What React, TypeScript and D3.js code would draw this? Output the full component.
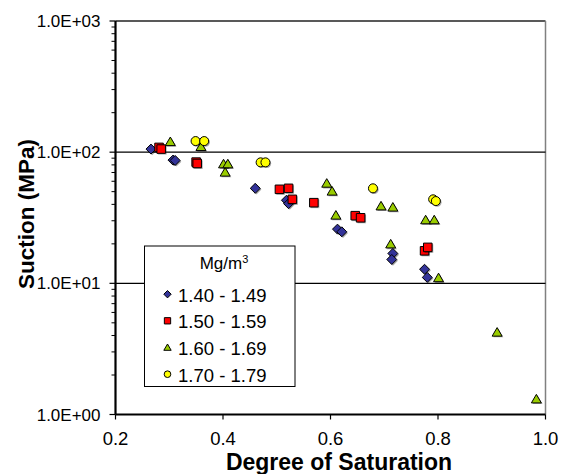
import React from "react";
import * as d3 from "d3";

// Degree of saturation vs. suction, grouped by dry density (Mg/m³)
const seriesNames = ["1.40 - 1.49", "1.50 - 1.59", "1.60 - 1.69", "1.70 - 1.79"];

const sat140 = [0.266, 0.307, 0.311, 0.46, 0.518, 0.522, 0.613, 0.621, 0.716, 0.714, 0.775, 0.78];
const suc140 = [105.6, 87, 86.5, 53.0, 43, 40.5, 25.9, 24.7, 16.9, 15.2, 12.8, 11.1];

const sat150 = [0.281, 0.285, 0.35, 0.352, 0.505, 0.522, 0.529, 0.569, 0.646, 0.656, 0.775, 0.781];
const suc150 = [108.7, 105.6, 84, 82, 52.1, 53.0, 43.7, 41.2, 32.8, 31.6, 17.7, 18.8];

const sat160 = [0.302, 0.359, 0.401, 0.409, 0.404, 0.593, 0.603, 0.61, 0.694, 0.716, 0.712, 0.777, 0.793, 0.801, 0.91, 0.983];
const suc160 = [120, 110, 81.2, 81.2, 70.2, 57.8, 50.3, 33.0, 38.8, 38.0, 19.9, 30.4, 30.4, 11.0, 4.23, 1.31];

const sat170 = [0.349, 0.365, 0.47, 0.479, 0.679, 0.791, 0.796];
const suc170 = [121.5, 121.5, 83.6, 83.6, 53.0, 43.7, 42.4];

const xTicks = [0.2, 0.4, 0.6, 0.8, 1.0];
const xTickLabels = ["0.2", "0.4", "0.6", "0.8", "1.0"];
const yTicks = [1, 10, 100, 1000];
const yTickLabels = ["1.0E+00", "1.0E+01", "1.0E+02", "1.0E+03"];
const gridValues = [10, 100];

const W = 563;
const H = 474;
const left = 115.5;
const right = 545.5;
const top = 21;
const bottom = 414.5;

const FONT = "Liberation Sans, Arial, sans-serif";

type Shape = "diamond" | "square" | "triangle" | "circle";

function markerPath(shape: Shape, cx: number, cy: number, s: number): string {
  const h = s / 2;
  switch (shape) {
    case "diamond":
      return `M${cx},${cy - h * 1.05}L${cx + h * 1.05},${cy}L${cx},${cy + h * 1.05}L${cx - h * 1.05},${cy}Z`;
    case "square":
      return `M${cx - h * 0.9},${cy - h * 0.9}h${s * 0.9}v${s * 0.9}h${-s * 0.9}Z`;
    case "triangle":
      return `M${cx},${cy - h}L${cx + h * 1.05},${cy + h * 0.8}L${cx - h * 1.05},${cy + h * 0.8}Z`;
    default: {
      const r = h * 0.95;
      return `M${cx - r},${cy}a${r},${r} 0 1,0 ${2 * r},0a${r},${r} 0 1,0 ${-2 * r},0Z`;
    }
  }
}

const seriesStyle: { shape: Shape; fill: string }[] = [
  { shape: "diamond", fill: "#333399" },
  { shape: "square", fill: "#FF0000" },
  { shape: "triangle", fill: "#99CC00" },
  { shape: "circle", fill: "#FFFF00" },
];

export default function App() {
  const x = d3.scaleLinear().domain([0.2, 1.0]).range([left, right]);
  const y = d3.scaleLog().domain([1, 1000]).range([bottom, top]);

  const series = [
    d3.zip(sat140, suc140),
    d3.zip(sat150, suc150),
    d3.zip(sat160, suc160),
    d3.zip(sat170, suc170),
  ];

  const minor: number[] = [];
  for (let d = 1; d < 1000; d *= 10) {
    for (let k = 2; k <= 9; k++) minor.push(d * k);
  }

  const legX = 144.5;
  const legY = 246;
  const legW = 150.5;
  const legH = 140.5;
  const rowBase = [301.7, 328.3, 355, 381.7];

  return (
    <svg width={W} height={H} style={{ position: "absolute", left: 0, top: 0, background: "#fff" }}>
      <rect x={0} y={0} width={W} height={H} fill="#fff" />
      {/* plot frame */}
      <line x1={left} x2={right} y1={top} y2={top} stroke="#222" strokeWidth={1.5} />
      <line x1={right} x2={right} y1={top} y2={bottom} stroke="#808080" strokeWidth={1.5} />
      {gridValues.map((v) => (
        <line key={v} x1={left} x2={right} y1={y(v)} y2={y(v)} stroke="#000" strokeWidth={1.2} />
      ))}

      {/* markers */}
      {series.map((pts, i) =>
        pts.map(([sx, sy], j) => {
          const p = markerPath(seriesStyle[i].shape, x(sx), y(sy), 9.5);
          return (
            <g key={`${i}-${j}`}>
              <path d={p} transform="translate(1.2,1.2)" fill="#000" opacity={0.35} />
              <path d={p} fill={seriesStyle[i].fill} stroke="#000" strokeWidth={1} />
            </g>
          );
        })
      )}

      {/* axes */}
      <line x1={left} x2={left} y1={top} y2={bottom} stroke="#000" strokeWidth={2.2} />
      <line x1={left} x2={right} y1={bottom} y2={bottom} stroke="#000" strokeWidth={2.2} />
      {minor.map((v) => (
        <line key={v} x1={left - 4} x2={left} y1={y(v)} y2={y(v)} stroke="#000" strokeWidth={1} />
      ))}
      {yTicks.map((v, i) => (
        <g key={v}>
          <line x1={left - 6} x2={left} y1={y(v)} y2={y(v)} stroke="#000" strokeWidth={1.2} />
          <text
            x={left - 15}
            y={y(v)}
            dy="0.36em"
            textAnchor="end"
            fontFamily={FONT}
            fontSize={17}
            fill="#000"
          >
            {yTickLabels[i]}
          </text>
        </g>
      ))}
      {xTicks.map((v, i) => (
        <g key={v}>
          <line x1={x(v)} x2={x(v)} y1={bottom} y2={bottom + 5} stroke="#000" strokeWidth={1.2} />
          <text x={x(v)} y={445} textAnchor="middle" fontFamily={FONT} fontSize={18.5} fill="#000">
            {xTickLabels[i]}
          </text>
        </g>
      ))}

      {/* axis titles */}
      <text
        transform="translate(34,214) rotate(-90)"
        textAnchor="middle"
        fontFamily={FONT}
        fontSize={22.5}
        fontWeight="bold"
        fill="#000"
      >
        Suction (MPa)
      </text>
      <text x={339} y={470} textAnchor="middle" fontFamily={FONT} fontSize={23} fontWeight="bold" fill="#000">
        Degree of Saturation
      </text>

      {/* legend */}
      <rect x={legX} y={legY} width={legW} height={legH} fill="#fff" stroke="#000" strokeWidth={1} />
      <text x={224} y={269} textAnchor="middle" fontFamily={FONT} fontSize={17} fill="#000">
        Mg/m<tspan dy={-6} fontSize={11}>3</tspan>
      </text>
      {seriesNames.map((name, i) => (
        <g key={name}>
          <path
            d={markerPath(seriesStyle[i].shape, 167.5, rowBase[i] - 7.5, 7)}
            fill={seriesStyle[i].fill}
            stroke="#000"
            strokeWidth={1}
          />
          <text x={178} y={rowBase[i]} fontFamily={FONT} fontSize={18.5} fill="#000">
            {name}
          </text>
        </g>
      ))}
    </svg>
  );
}
